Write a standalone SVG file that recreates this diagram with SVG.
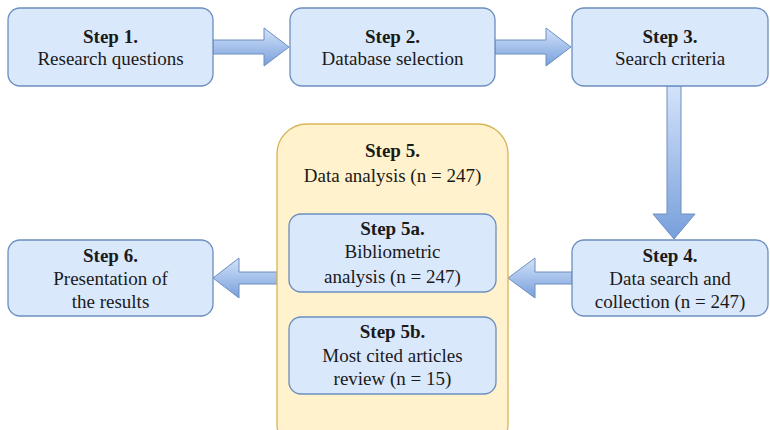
<svg xmlns="http://www.w3.org/2000/svg" width="770" height="430" viewBox="0 0 770 430">
<defs>
<linearGradient id="gv" x1="0" y1="0" x2="0" y2="1">
<stop offset="0" stop-color="#d4e3fa"/>
<stop offset="1" stop-color="#779fdb"/>
</linearGradient>
<style>
.box{fill:#dae8fc;stroke:#6c8ebf;stroke-width:1.3}
.cont{fill:#fff2cc;stroke:#d6b656;stroke-width:1.3}
.arr{fill:url(#gv);stroke:#6c8ebf;stroke-width:1}
.t text{font-size:19px;fill:#1a1a1a;text-anchor:middle}
.b{font-weight:bold}
</style>
</defs>
<rect width="770" height="430" fill="#ffffff"/>
<g id="connectors">
<path class="arr" d="M213,40 H264 V28 L289,47 L264,66 V54 H213 Z"/>
<path class="arr" d="M495,40 H546 V28 L571,47 L546,66 V54 H495 Z"/>
<path class="arr" d="M667,86 V214 H653 L674,239 L695,214 H681 V86 Z"/>
<path class="arr" d="M572,272 H535 V258 L508,278 L535,298 V284 H572 Z"/>
<path class="arr" d="M277,272 H239 V258 L213,278 L239,298 V284 H277 Z"/>
</g>
<g class="t" font-family="'Liberation Serif', 'DejaVu Serif', serif">
<g id="step1">
<rect class="box" x="8" y="8" width="205" height="78" rx="12"/>
<text x="110.5" y="43" class="b">Step 1.</text>
<text x="110.5" y="65">Research questions</text>
</g>
<g id="step2">
<rect class="box" x="290" y="8" width="205" height="78" rx="12"/>
<text x="392.5" y="43" class="b">Step 2.</text>
<text x="392.5" y="65">Database selection</text>
</g>
<g id="step3">
<rect class="box" x="572" y="8" width="196" height="78" rx="12"/>
<text x="670" y="43" class="b">Step 3.</text>
<text x="670" y="65">Search criteria</text>
</g>
<g id="step4">
<rect class="box" x="572" y="240" width="196" height="76" rx="12"/>
<text x="670" y="262" class="b">Step 4.</text>
<text x="670" y="285">Data search and</text>
<text x="670" y="308">collection (n = 247)</text>
</g>
<g id="step5">
<rect class="cont" x="277" y="124" width="231" height="330" rx="30"/>
<text x="392.5" y="157" class="b">Step 5.</text>
<text x="392.5" y="182">Data analysis (n = 247)</text>
</g>
<g id="step5a">
<rect class="box" x="289" y="214" width="207" height="78" rx="12"/>
<text x="392.5" y="235" class="b">Step 5a.</text>
<text x="392.5" y="258">Bibliometric</text>
<text x="392.5" y="283">analysis (n = 247)</text>
</g>
<g id="step5b">
<rect class="box" x="289" y="317" width="207" height="77" rx="12"/>
<text x="392.5" y="338" class="b">Step 5b.</text>
<text x="392.5" y="362">Most cited articles</text>
<text x="392.5" y="385">review (n = 15)</text>
</g>
<g id="step6">
<rect class="box" x="8" y="240" width="205" height="76" rx="12"/>
<text x="110.5" y="262" class="b">Step 6.</text>
<text x="110.5" y="285">Presentation of</text>
<text x="110.5" y="308">the results</text>
</g>
</g>
</svg>
